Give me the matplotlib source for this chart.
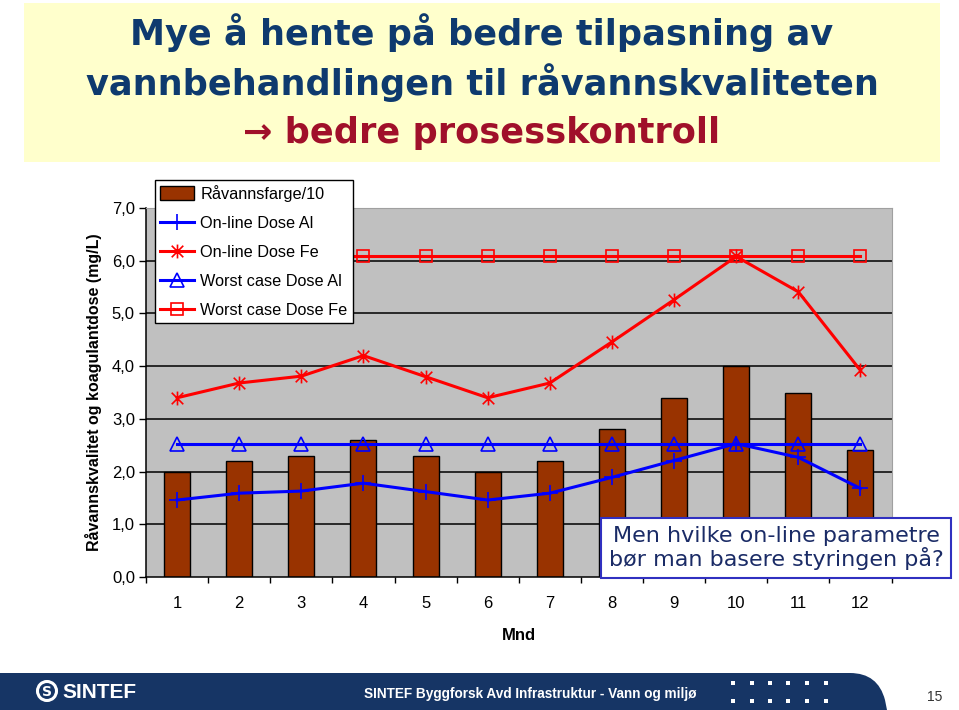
import matplotlib
matplotlib.use("Agg")
import matplotlib.pyplot as plt
import matplotlib.patches as mpatches
from matplotlib.path import Path
import numpy as np

# data
months = [1, 2, 3, 4, 5, 6, 7, 8, 9, 10, 11, 12]
raavannsfarge = [2.0, 2.2, 2.3, 2.6, 2.3, 2.0, 2.2, 2.8, 3.4, 4.0, 3.5, 2.4]
online_al = [1.46, 1.59, 1.63, 1.78, 1.62, 1.46, 1.59, 1.89, 2.21, 2.53, 2.27, 1.68]
online_fe = [3.40, 3.68, 3.81, 4.20, 3.80, 3.40, 3.68, 4.46, 5.26, 6.08, 5.41, 3.92]
worst_al = [2.53] * 12
worst_fe = [6.08] * 12
yticks = [0, 1, 2, 3, 4, 5, 6, 7]
ytick_labels = ["0,0", "1,0", "2,0", "3,0", "4,0", "5,0", "6,0", "7,0"]
series_names = ["Råvannsfarge/10", "On-line Dose Al", "On-line Dose Fe",
                "Worst case Dose Al", "Worst case Dose Fe"]

W, H = 959, 710
fig = plt.figure(figsize=(W / 100, H / 100), dpi=100)

# background decorations in pixel coordinates
deco = fig.add_axes([0, 0, 1, 1], zorder=-1)
deco.set_xlim(0, W)
deco.set_ylim(H, 0)
deco.axis("off")

# title box
deco.add_patch(mpatches.Rectangle((24, 3), 916, 159, facecolor="#FFFFCC", edgecolor="none"))
title_font = dict(family="DejaVu Sans", weight="bold", fontsize=25.3, ha="center", va="center")
deco.text(482, 33, "Mye å hente på bedre tilpasning av", color="#0E3A6E", **title_font)
deco.text(482, 83, "vannbehandlingen til råvannskvaliteten", color="#0E3A6E", **title_font)
deco.text(482, 133, "→ bedre prosesskontroll", color="#A0102A", **title_font)

# footer band with rounded right corner
verts = [(0, 673), (850, 673), (878, 673), (885, 700), (887, 710), (0, 710), (0, 673)]
codes = [Path.MOVETO, Path.LINETO, Path.CURVE3, Path.CURVE3, Path.LINETO, Path.LINETO, Path.CLOSEPOLY]
deco.add_patch(mpatches.PathPatch(Path(verts, codes), facecolor="#163565", edgecolor="none"))
deco.add_patch(mpatches.Circle((47, 691), 9.5, facecolor="none", edgecolor="white", lw=2.2))
deco.text(47, 692, "S", color="white", fontsize=10, fontweight="bold", ha="center", va="center")
deco.text(62, 692, "SINTEF", color="white", fontsize=15, fontweight="bold",
          family="Liberation Sans", ha="left", va="center")
deco.text(530, 694, "SINTEF Byggforsk Avd Infrastruktur - Vann og miljø", color="white",
          fontsize=9.8, family="Liberation Sans", fontweight="bold", ha="center", va="center")
for yy in (683, 701):
    for xx in (733, 752, 770, 788, 807, 826):
        deco.add_patch(mpatches.Rectangle((xx - 2, yy - 2), 4, 4, facecolor="white", edgecolor="none"))
deco.text(935, 697, "15", color="#333333", fontsize=10, family="Liberation Sans",
          ha="center", va="center")

# chart
ax = fig.add_axes([146 / W, 1 - 577 / H, 745.5 / W, 369 / H])
ax.set_facecolor("#C0C0C0")
x = np.array(months)

ax.hlines(yticks[1:-1], 0.5, 12.5, color="black", lw=1.1, zorder=1)
ax.bar(x, raavannsfarge, width=0.42, color="#993300", edgecolor="black", lw=1, zorder=2)

star = Path([(-1, -1), (1, 1), (-1, 1), (1, -1), (0, -1.2), (0, 1.2)],
            [Path.MOVETO, Path.LINETO, Path.MOVETO, Path.LINETO, Path.MOVETO, Path.LINETO])

l_al, = ax.plot(x, online_al, color="#0000FF", lw=2.2, marker="+", ms=11, mew=1.2, zorder=4)
l_fe, = ax.plot(x, online_fe, color="#FF0000", lw=2.2, marker=star, ms=10, mew=1.2,
                mfc="none", mec="#FF0000", zorder=4)
l_wal, = ax.plot(x, worst_al, color="#0000FF", lw=2.2, marker="^", ms=10, mew=1.2,
                 mfc="none", mec="#0000FF", zorder=3)
l_wfe, = ax.plot(x, worst_fe, color="#FF0000", lw=2.2, marker="s", ms=9, mew=1.2,
                 mfc="none", mec="#FF0000", zorder=3)

ax.set_xlim(0.5, 12.5)
ax.set_ylim(0, 7)
ax.set_yticks(yticks)
ax.set_yticklabels(ytick_labels, fontsize=12, family="Liberation Sans")
ax.set_xticks(x)
ax.set_xticklabels([str(m) for m in months], fontsize=12, family="Liberation Sans")
ax.set_xticks(np.arange(0.5, 13, 1), minor=True)
ax.tick_params(axis="x", which="major", length=0, pad=14)
ax.tick_params(axis="x", which="minor", length=4, width=1)
ax.tick_params(axis="y", length=5, width=1, pad=3)
for s in ("top", "right"):
    ax.spines[s].set_color("#A0A0A0")
    ax.spines[s].set_linewidth(0.8)
for s in ("left", "bottom"):
    ax.spines[s].set_color("black")
    ax.spines[s].set_linewidth(1.1)

ax.set_xlabel("Mnd", fontsize=12, fontweight="bold", family="Liberation Sans", labelpad=12)
ax.set_ylabel("Råvannskvalitet og koagulantdose (mg/L)", fontsize=11.5, fontweight="bold",
              family="Liberation Sans", labelpad=7)

bar_handle = mpatches.Patch(facecolor="#993300", edgecolor="black")
leg = ax.legend([bar_handle, l_al, l_fe, l_wal, l_wfe], series_names,
                loc="upper left", bbox_to_anchor=(0.012, 1.076), borderaxespad=0,
                prop=dict(family="Liberation Sans", size=11.7), frameon=True, fancybox=False,
                framealpha=1, edgecolor="black", handlelength=2.1, handleheight=0.9,
                labelspacing=0.85, handletextpad=0.4, borderpad=0.3)
leg.get_frame().set_linewidth(1)
leg.set_zorder(10)

# question box
fig.text(776 / W, 1 - 548 / H, "Men hvilke on-line parametre\nbør man basere styringen på?",
         fontsize=16, color="#1A2B66", ha="center", va="center", linespacing=1.1,
         bbox=dict(boxstyle="square,pad=0.35", facecolor="white", edgecolor="#3030C0", lw=1.5),
         zorder=20)

fig.savefig("out.png", dpi=100)
